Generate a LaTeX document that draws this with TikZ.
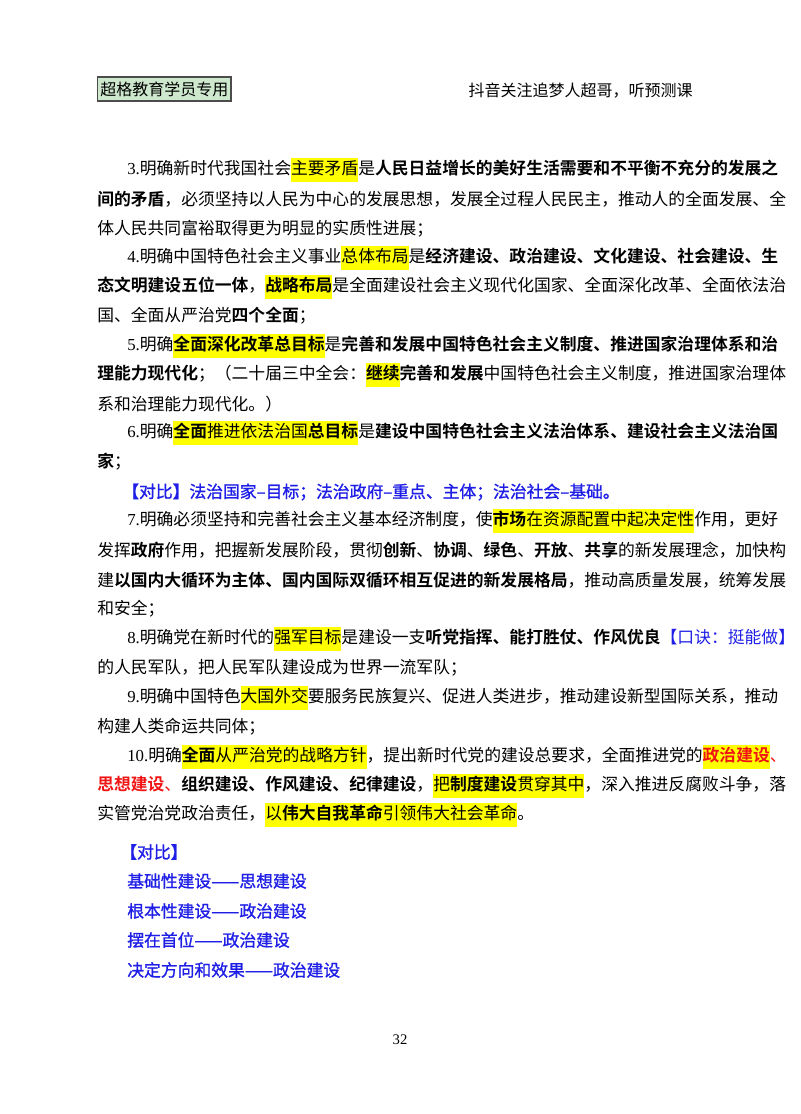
\documentclass[tikz,border=0pt]{standalone}
\usepackage{fontspec}
\setmainfont{Noto Sans CJK SC}[BoldFont={Noto Sans CJK SC Bold}]
\newfontfamily\numf{Liberation Serif}
\definecolor{hly}{RGB}{255,255,0}
\definecolor{myblue}{RGB}{30,30,230}
\definecolor{myred}{RGB}{240,20,20}
\definecolor{boxg}{RGB}{205,232,205}
\XeTeXlinebreaklocale "zh"
\XeTeXlinebreakskip=0pt plus 2pt
\newcommand{\hlt}[1]{{\setlength\fboxsep{0pt}\colorbox{hly}{\rule[-6pt]{0pt}{18pt}#1}}}
\tikzset{ln/.style={anchor=west,inner sep=0pt,font=\fontsize{12.6pt}{14pt}\selectfont},
 bl/.style={ln,text=myblue,font=\fontsize{12.6pt}{14pt}\selectfont\addfontfeature{FakeBold=1.2}}}
\newcommand{\FL}[2]{\node[ln] (a#1) at (97,#1) {\makebox[454.5pt][s]{#2}};}
\newcommand{\IL}[2]{\node[ln] (a#1) at (127,#1) {\makebox[432pt][s]{#2}};}
\newcommand{\NL}[3]{\node[ln] (a#2) at (#1,#2) {#3};}
\begin{document}
\begin{tikzpicture}[x=0.75pt,y=-0.75pt]
\useasboundingbox (0,0) rectangle (800,1114);
\node[draw=black!70,line width=0.9pt,fill=boxg,inner xsep=2pt,anchor=west,font=\fontsize{12pt}{13pt}\selectfont,minimum height=17pt] (hdr) at (97,89) {超格教育学员专用};
\node[anchor=east,inner sep=0pt,font=\fontsize{12pt}{13pt}\selectfont] (hdr2) at (693,91) {抖音关注追梦人超哥，听预测课};
\IL{170}{{\numf 3.}明确新时代我国社会\hlt{主要矛盾}是\textbf{人民日益增长的美好生活需要和不平衡不充分的发展之}}
\FL{199}{\textbf{间的矛盾}，必须坚持以人民为中心的发展思想，发展全过程人民民主，推动人的全面发展、全}
\NL{97}{229}{体人民共同富裕取得更为明显的实质性进展；}
\IL{258}{{\numf 4.}明确中国特色社会主义事业\hlt{总体布局}是\textbf{经济建设、政治建设、文化建设、社会建设、生}}
\FL{287}{\textbf{态文明建设五位一体}，\hlt{\textbf{战略布局}}是全面建设社会主义现代化国家、全面深化改革、全面依法治}
\NL{97}{316}{国、全面从严治党\textbf{四个全面}；}
\IL{346}{{\numf 5.}明确\hlt{\textbf{全面深化改革总目标}}是\textbf{完善和发展中国特色社会主义制度、推进国家治理体系和治}}
\FL{375}{\textbf{理能力现代化}；（二十届三中全会：\hlt{\textbf{继续}}\textbf{完善和发展}中国特色社会主义制度，推进国家治理体}
\NL{97}{404}{系和治理能力现代化。）}
\IL{433}{{\numf 6.}明确\hlt{\textbf{全面}推进依法治国\textbf{总目标}}是\textbf{建设中国特色社会主义法治体系、建设社会主义法治国}}
\NL{97}{462}{\textbf{家}；}
\node[bl] (a492) at (122,492) {【对比】法治国家–目标；法治政府–重点、主体；法治社会–基础。};
\IL{521}{{\numf 7.}明确必须坚持和完善社会主义基本经济制度，使\hlt{\textbf{市场}在资源配置中起决定性}作用，更好}
\FL{550}{发挥\textbf{政府}作用，把握新发展阶段，贯彻\textbf{创新}、\textbf{协调}、\textbf{绿色}、\textbf{开放}、\textbf{共享}的新发展理念，加快构}
\FL{580}{建\textbf{以国内大循环为主体、国内国际双循环相互促进的新发展格局}，推动高质量发展，统筹发展}
\NL{97}{609}{和安全；}
\NL{127}{639}{{\numf 8.}明确党在新时代的\hlt{强军目标}是建设一支\textbf{听党指挥、能打胜仗、作风优良}{\color{myblue}【口诀：挺能做】}}
\NL{97}{668}{的人民军队，把人民军队建设成为世界一流军队；}
\IL{698}{{\numf 9.}明确中国特色\hlt{大国外交}要服务民族复兴、促进人类进步，推动建设新型国际关系，推动}
\NL{97}{727}{构建人类命运共同体；}
\IL{757}{{\numf 10.}明确\hlt{\textbf{全面}从严治党的战略方针}，提出新时代党的建设总要求，全面推进党的\hlt{\textbf{\color{myred}政治建设}}{\color{myred}、}}
\FL{786}{{\color{myred}\textbf{思想建设}、}\textbf{组织建设、作风建设、纪律建设}，\hlt{把\textbf{制度建设}贯穿其中}，深入推进反腐败斗争，落}
\NL{97}{815}{实管党治党政治责任，\hlt{以\textbf{伟大自我革命}引领伟大社会革命}。}
\node[bl] (b852) at (120,852) {【对比】};
\node[bl] (b881) at (127,881) {基础性建设——思想建设};
\node[bl] (b911) at (127,911) {根本性建设——政治建设};
\node[bl] (b940) at (127,940) {摆在首位——政治建设};
\node[bl] (b970) at (127,970) {决定方向和效果——政治建设};
\node[inner sep=0pt,font=\numf\fontsize{11pt}{12pt}\selectfont] (pg) at (400,1040) {32};
\end{tikzpicture}
\end{document}
